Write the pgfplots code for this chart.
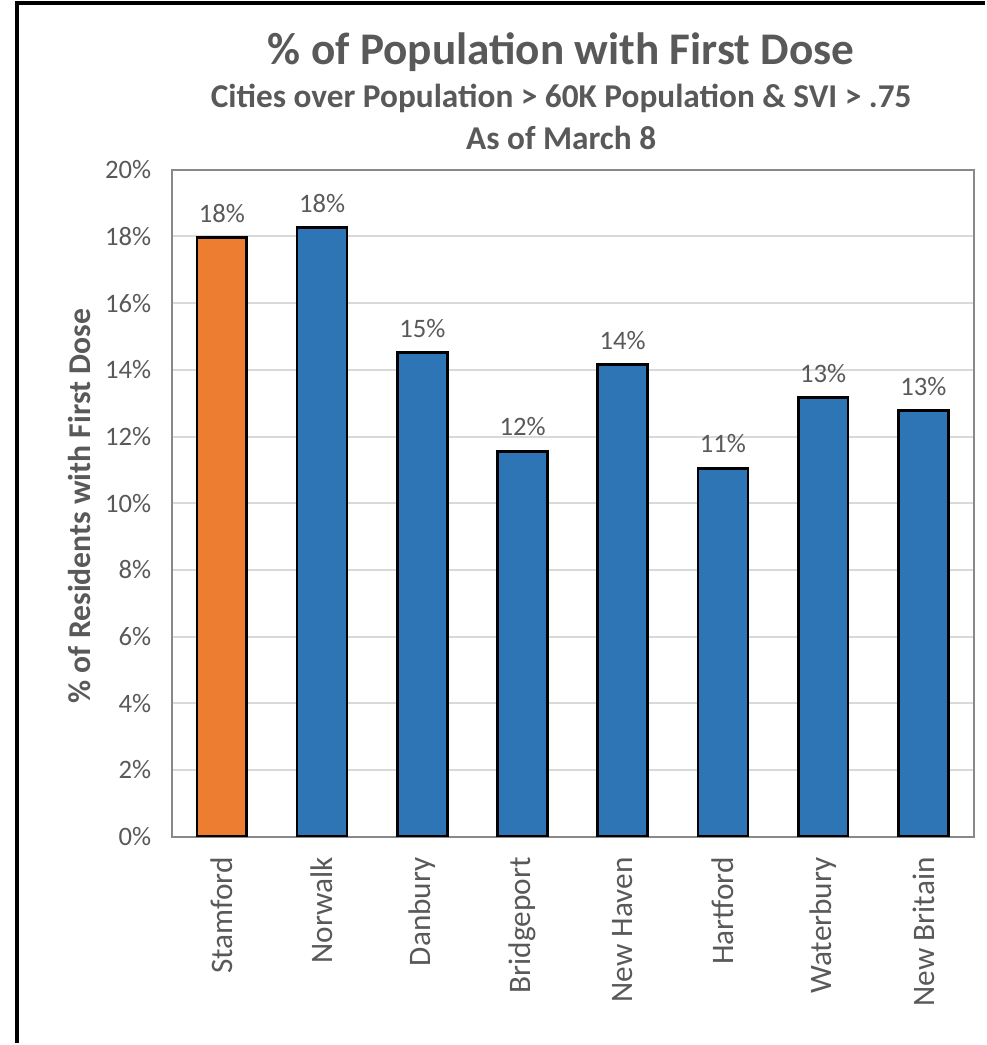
\documentclass[border=0pt]{standalone}
\usepackage{fontspec}
\setmainfont{Carlito}
\usepackage{pgfplots}
\pgfplotsset{compat=1.18}
\definecolor{txt}{HTML}{595959}
\definecolor{orangebar}{HTML}{ED7D31}
\definecolor{bluebar}{HTML}{2E75B6}
\definecolor{gridc}{HTML}{D9D9D9}
\definecolor{framec}{HTML}{898989}
\begin{document}
\begin{tikzpicture}
% canvas 739.5pt x 783.75pt (986 x 1045 px), origin bottom left
\path (0pt,0pt) rectangle (739.5pt,783.75pt);
\draw[black,line width=2.4pt] (12.75pt,0pt) -- (12.75pt,781.5pt) -- (739.5pt,781.5pt);
\node[txt,font=\bfseries\fontsize{34}{40}\selectfont] at (421.5pt,744.75pt) {\% of Population with First Dose};
\node[txt,font=\bfseries\fontsize{25}{30}\selectfont] at (421.5pt,709.5pt) {Cities over Population > 60K Population \& SVI > .75};
\node[txt,font=\bfseries\fontsize{25}{30}\selectfont] at (421.5pt,680.25pt) {As of March 8};
\node[txt,rotate=90,font=\bfseries\fontsize{23.8}{28}\selectfont] at (60pt,403.5pt) {\% of Residents with First Dose};
\begin{axis}[
    at={(129pt,155.25pt)}, anchor=south west,
    scale only axis,
    width=602.25pt, height=501pt,
    ybar, bar width=37.5pt,
    xmin=-0.5, xmax=7.5,
    ymin=0, ymax=20,
    xtick={0,...,7},
    xticklabels={Stamford,Norwalk,Danbury,Bridgeport,New Haven,Hartford,Waterbury,New Britain},
    ytick={0,2,...,20},
    yticklabel={\pgfmathprintnumber{\tick}\%},
    /pgf/number format/assume math mode=true,
    major tick length=0pt,
    ymajorgrids,
    grid style={gridc,line width=1.5pt},
    axis line style={framec,line width=1.5pt},
    tick label style={txt},
    yticklabel style={font=\fontsize{20}{24}\selectfont,xshift=-12pt},
    xticklabel style={font=\fontsize{23.5}{28}\selectfont,rotate=90,anchor=east,xshift=-12pt},
    nodes near coords={\pgfmathprintnumber[fixed,precision=0]{\pgfplotspointmeta}\%},
    nodes near coords style={txt,font=\fontsize{20}{24}\selectfont,yshift=7pt},
]
\addplot[fill=orangebar,draw=black,line width=2pt,bar shift=0pt] coordinates {(0,17.96)};
\addplot[fill=bluebar,draw=black,line width=2pt,bar shift=0pt] coordinates {
(1,18.26) (2,14.52) (3,11.56) (4,14.16) (5,11.05) (6,13.17) (7,12.78)};
\end{axis}
\end{tikzpicture}
\end{document}
